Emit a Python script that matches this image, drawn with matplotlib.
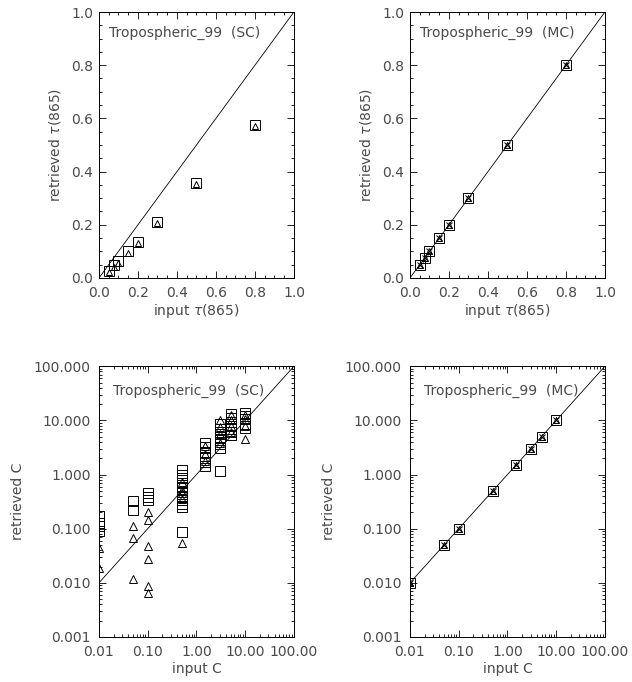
import numpy as np
import matplotlib
matplotlib.use("Agg")
import matplotlib.pyplot as plt
from matplotlib.ticker import FixedLocator, MultipleLocator, LogLocator, NullFormatter

plt.rcParams['font.family'] = ['DejaVu Sans']
plt.rcParams['font.size'] = 10
plt.rcParams['mathtext.fontset'] = 'dejavusans'

TXT = '#4a4a4a'

# ---- optical thickness panels ----
tau_in = [0.05, 0.075, 0.1, 0.15, 0.2, 0.3, 0.5, 0.8]
tau_sc_sq = [0.027, 0.048, 0.062, 0.100, 0.135, 0.210, 0.358, 0.577]
tau_sc_tr = [0.024, 0.043, 0.058, 0.095, 0.130, 0.205, 0.352, 0.572]
tau_mc_sq = [0.05, 0.075, 0.1, 0.15, 0.2, 0.3, 0.5, 0.8]
tau_mc_tr = [0.05, 0.075, 0.1, 0.15, 0.2, 0.3, 0.5, 0.8]

# ---- concentration panels (SC) ----
c_sq_x = [0.01, 0.01, 0.01, 0.01,
          0.05, 0.05,
          0.1, 0.1, 0.1,
          0.5, 0.5, 0.5, 0.5, 0.5, 0.5, 0.5, 0.5, 0.5, 0.5, 0.5,
          1.5, 1.5, 1.5, 1.5, 1.5, 1.5,
          3, 3, 3, 3, 3, 3, 3, 3,
          5, 5, 5, 5, 5, 5, 5,
          10, 10, 10, 10, 10]
c_sq_y = [0.17, 0.13, 0.11, 0.09,
          0.32, 0.22,
          0.45, 0.38, 0.34,
          1.22, 1.0, 0.85, 0.7, 0.58, 0.47, 0.4, 0.34, 0.29, 0.25, 0.086,
          3.8, 3.2, 2.6, 2.0, 1.7, 1.45,
          8.5, 7.0, 6.0, 5.0, 4.3, 3.6, 3.1, 1.15,
          13.0, 11.0, 9.5, 8.0, 7.0, 6.0, 5.3,
          13.5, 12.0, 10.5, 8.5, 7.2]
c_tr_x = [0.01, 0.01,
          0.05, 0.05, 0.05,
          0.1, 0.1, 0.1, 0.1, 0.1, 0.1,
          0.5, 0.5, 0.5, 0.5, 0.5,
          1.5, 1.5, 1.5,
          3, 3, 3, 3,
          5, 5, 5, 5,
          10, 10, 10, 10]
c_tr_y = [0.044, 0.019,
          0.11, 0.067, 0.012,
          0.20, 0.142, 0.047, 0.028, 0.0087, 0.0064,
          0.72, 0.52, 0.45, 0.36, 0.054,
          3.4, 2.4, 1.8,
          10.2, 7.5, 5.5, 3.8,
          12.5, 10.0, 8.0, 6.0,
          12.8, 10.8, 8.0, 4.6]
c_in = [0.01, 0.05, 0.1, 0.5, 1.5, 3, 5, 10]
c_mc = [0.01, 0.05, 0.1, 0.5, 1.5, 3, 5, 10]

fig = plt.figure(figsize=(6.32, 6.82), dpi=100)

w = 0.3085
axes = [fig.add_axes([0.1566, 0.5924, w, 0.390]),
        fig.add_axes([0.6487, 0.5924, w, 0.390]),
        fig.add_axes([0.1566, 0.0660, w, 0.397]),
        fig.add_axes([0.6487, 0.0660, w, 0.397])]

mk = dict(linestyle='none', markerfacecolor='none', markeredgecolor='black',
          markeredgewidth=0.7)


def style(ax, ypad):
    ax.tick_params(which='both', direction='in', top=True, right=True,
                   colors='black', labelcolor=TXT, width=0.6)
    ax.tick_params(axis='x', pad=6)
    ax.tick_params(axis='y', pad=ypad)
    ax.tick_params(which='major', length=5)
    ax.tick_params(which='minor', length=2.5)
    for s in ax.spines.values():
        s.set_linewidth(0.7)


# top panels
for ax, sq, tr, lab in [(axes[0], tau_sc_sq, tau_sc_tr, 'SC'),
                        (axes[1], tau_mc_sq, tau_mc_tr, 'MC')]:
    ax.plot([0, 1], [0, 1], color='black', lw=0.6)
    ax.plot(tau_in, sq, marker='s', markersize=7, **mk)
    ax.plot(tau_in, tr, marker='^', markersize=5, **mk)
    if lab == 'MC':
        ax.plot(tau_in, sq, marker='x', markersize=4.5, **mk)
    ax.set_xlim(0, 1)
    ax.set_ylim(0, 1)
    ax.xaxis.set_major_locator(MultipleLocator(0.2))
    ax.yaxis.set_major_locator(MultipleLocator(0.2))
    ax.xaxis.set_minor_locator(MultipleLocator(0.05))
    ax.yaxis.set_minor_locator(MultipleLocator(0.05))
    ax.xaxis.set_major_formatter(lambda v, p: f'{v:.1f}')
    ax.yaxis.set_major_formatter(lambda v, p: f'{v:.1f}')
    ax.set_xlabel(r'input $\tau$(865)', color=TXT, labelpad=1)
    ax.set_ylabel(r'retrieved $\tau$(865)', color=TXT, labelpad=6)
    ax.text(0.05, 0.92, f'Tropospheric_99  ({lab})', transform=ax.transAxes,
            color=TXT, va='center', ha='left')
    style(ax, 4)

# bottom panels
for ax, lab in [(axes[2], 'SC'), (axes[3], 'MC')]:
    ax.set_xscale('log')
    ax.set_yscale('log')
    ax.plot([0.01, 100], [0.01, 100], color='black', lw=0.6)
    if lab == 'SC':
        ax.plot(c_sq_x, c_sq_y, marker='s', markersize=7, **mk)
        ax.plot(c_tr_x, c_tr_y, marker='^', markersize=6, **mk)
    else:
        ax.plot(c_in, c_mc, marker='s', markersize=7, **mk)
        ax.plot(c_in, c_mc, marker='^', markersize=5, **mk)
        ax.plot(c_in, c_mc, marker='x', markersize=4.5, **mk)
    ax.set_xlim(0.01, 100)
    ax.set_ylim(0.001, 100)
    ax.xaxis.set_major_locator(FixedLocator([0.01, 0.1, 1, 10, 100]))
    ax.yaxis.set_major_locator(FixedLocator([0.001, 0.01, 0.1, 1, 10, 100]))
    ax.xaxis.set_minor_locator(LogLocator(base=10, subs=np.arange(2, 10), numticks=20))
    ax.yaxis.set_minor_locator(LogLocator(base=10, subs=np.arange(2, 10), numticks=20))
    ax.xaxis.set_minor_formatter(NullFormatter())
    ax.yaxis.set_minor_formatter(NullFormatter())
    ax.xaxis.set_major_formatter(lambda v, p: f'{v:.2f}')
    ax.yaxis.set_major_formatter(lambda v, p: f'{v:.3f}')
    ax.set_xlabel('input C', color=TXT, labelpad=2)
    ax.set_ylabel('retrieved C', color=TXT, labelpad=6)
    ax.text(0.07, 0.91, f'Tropospheric_99  ({lab})', transform=ax.transAxes,
            color=TXT, va='center', ha='left')
    style(ax, 6)

fig.savefig('out.png', dpi=100)
